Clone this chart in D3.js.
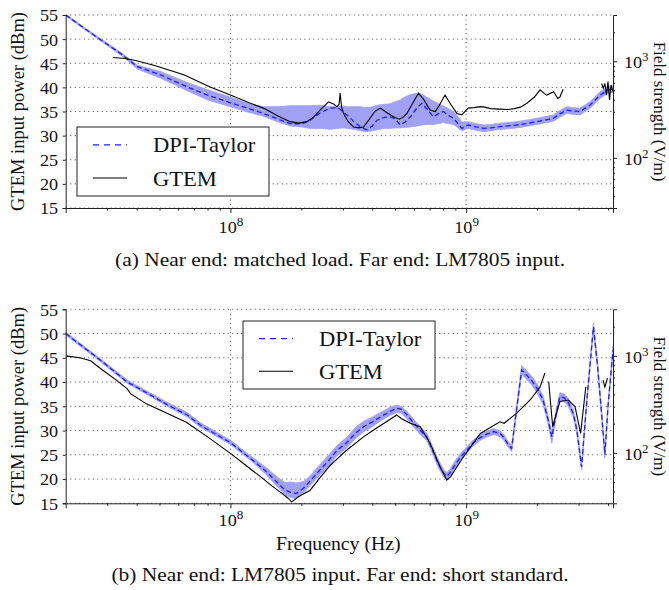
<!DOCTYPE html>
<html><head><meta charset="utf-8">
<script src="https://cdn.jsdelivr.net/npm/d3@7"></script>
<style>
body{margin:0;background:#fff}
text{font-family:"Liberation Serif","Times New Roman",serif;fill:#111}
</style>
</head><body>
<svg id="c" width="669" height="590"></svg>
<script>
// ---------------- DATA ----------------
// frequencies in MHz, power in dBm
const yTicks = [15,20,25,30,35,40,45,50,55];
const xDecades = [1e8, 1e9];
const xMinor = [3e7,4e7,5e7,6e7,7e7,8e7,9e7,2e8,3e8,4e8,5e8,6e8,7e8,8e8,9e8,2e9,3e9,4e9];
const eMajor = [100, 1000];
const eMinor = [40,50,60,70,80,90,200,300,400,500,600,700,800,900,2000];
const seriesNames = ["DPI-Taylor","GTEM"];
const captionA = "(a) Near end: matched load. Far end: LM7805 input.";
const captionB = "(b) Near end: LM7805 input. Far end: short standard.";
const xTitle = "Frequency (Hz)";
const yTitle = "GTEM input power (dBm)";
const y2Title = "Field strength (V/m)";

// Panel (a)
const freqA = [20,26.4,34.2,40.3,50.5,65.6,80,100,120,138,160,179,200,218,240,266,285,300,312,335,356,379,400,419,450,476,500,525,550,580,620,649,690,727,765,801,840,884,930,959,1020,1100,1190,1270,1350,1500,1640,1800,2000,2200,2350,2500,2670,2850,3040,3350,3700,4010,4200];
const dpiA = [55.0,50.8,47.0,44.3,42.6,40.1,38.4,36.8,35.6,34.6,33.4,32.5,32.4,33.2,34.7,35.7,35.8,35.0,34.3,32.8,31.8,31.2,32.0,33.2,33.8,33.9,33.5,32.2,32.8,33.9,35.8,36.7,35.2,33.9,34.6,35.0,34.2,33.6,32.3,31.5,32.2,31.8,31.5,31.6,31.8,32.0,32.2,32.5,32.9,33.3,33.6,34.5,35.3,35.1,35.0,36.3,38.4,39.5,39.6];
const dpiLoA = [54.8,50.6,46.7,43.8,41.9,39.3,37.4,36.0,34.8,34.0,32.8,32.0,31.8,31.5,31.5,31.3,31.5,31.6,31.5,31.3,31.0,30.8,31.0,31.2,31.5,31.5,31.6,31.6,31.7,31.8,32.0,32.2,32.3,32.3,32.5,32.7,32.5,32.3,31.5,31.0,31.5,31.1,30.8,31.0,31.2,31.4,31.6,31.9,32.3,32.7,33.0,33.8,34.6,34.4,34.3,35.6,37.7,38.8,38.9];
const dpiHiA = [55.2,51.0,47.3,44.6,43.3,41.0,39.5,38.0,36.6,36.0,36.0,36.2,36.2,36.2,36.3,36.0,36.0,36.1,36.0,36.0,36.0,35.8,36.0,36.3,36.5,36.6,37.0,37.4,38.0,38.5,38.8,38.6,37.8,37.2,36.6,36.2,35.6,35.0,33.8,32.8,32.9,32.5,32.2,32.3,32.5,32.7,32.9,33.2,33.6,34.0,34.3,35.2,36.0,35.8,35.7,37.0,39.1,40.2,40.3];
const gtemFreqA = [31.7,36,40,47.3,63.4,82,100,120,138,160,179,195,211,225,240,261,275,283,289,292,296,302,315,333,350,367,390,410,432,460,492,520,540,561,590,628,660,703,740,770,814,860,914,960,1020,1080,1150,1200,1270,1390,1500,1600,1700,1810,1950,2060,2150,2200,2350,2450,2500,2580,3000,3760,3820,3880,3940,4000,4060,4120,4200];
const gtemA = [46.2,46.0,45.5,44.6,42.6,40.1,38.4,36.8,35.7,34.0,32.9,32.6,32.9,33.8,35.3,37.0,36.5,36.0,36.5,38.8,36.0,34.6,33.0,31.8,31.6,31.8,33.5,35.0,35.7,34.8,33.9,33.4,33.8,34.6,36.5,38.8,37.5,35.3,35.0,36.3,38.4,36.5,34.6,34.3,35.7,35.8,36.0,35.9,35.6,35.5,35.4,35.6,35.9,36.7,38.0,39.5,38.7,38.4,39.1,37.7,38.0,39.6,null,40.8,39.8,40.8,38.4,41.2,37.4,40.5,39.1];

// Panel (b)
const freqB = [20,28.1,36.5,44.4,54,65.6,74.6,100,122,140,158,170,179,190,205,220,240,260,283,310,340,367,400,440,480,508,530,560,600,640,681,720,760,800,828,860,900,950,1010,1080,1160,1230,1310,1400,1450,1500,1560,1720,1800,1900,2000,2120,2220,2310,2400,2500,2600,2700,2850,2950,3090,3250,3470,3600,3750,3880,4000,4200];
const dpiB = [50.0,44.5,40.0,37.7,35.3,33.2,31.1,27.5,24.2,21.8,19.3,17.8,17.3,17.0,18.2,19.8,21.9,23.7,25.9,27.4,29.5,30.8,31.8,33.0,34.0,34.6,34.4,33.3,31.5,30.0,28.7,26.0,23.3,21.3,20.5,21.5,23.0,24.6,26.0,27.6,28.7,29.3,29.8,29.3,28.5,27.3,26.3,42.5,41.5,40.3,38.7,36.3,32.5,28.7,33.0,37.0,36.8,36.0,33.5,30.1,22.5,36.0,51.4,44.0,34.0,25.0,35.0,46.6];
const dpiLoB = [49.7,44.2,39.7,37.4,35.0,32.8,30.7,27.1,23.8,21.2,18.5,16.8,16.2,16.0,17.2,18.9,20.8,22.6,24.8,26.3,28.4,29.7,30.8,32.2,33.2,33.7,33.6,32.5,30.7,29.2,27.9,25.2,22.5,20.6,19.8,20.8,22.3,23.9,25.4,27.0,28.1,28.7,29.2,28.7,27.9,26.7,25.7,41.6,40.6,39.4,37.8,35.4,31.6,27.4,32.2,36.2,36.0,35.2,32.7,29.3,21.8,35.2,50.6,43.2,33.2,24.3,34.2,45.8];
const dpiHiB = [50.3,44.8,40.4,38.1,35.8,33.7,31.6,28.0,24.7,22.6,20.4,19.3,19.4,19.2,19.5,20.9,23.0,24.8,26.9,28.5,30.7,31.9,32.8,33.9,34.9,35.2,35.0,34.0,32.3,30.8,29.5,26.8,24.1,22.1,21.3,22.3,23.8,25.3,26.7,28.2,29.3,29.9,30.4,29.9,29.1,27.9,26.9,43.4,42.4,41.2,39.6,37.2,33.4,29.8,33.8,37.8,37.6,36.8,34.3,30.9,23.2,36.8,52.2,44.8,34.8,25.7,35.8,47.4];
const gtemFreqB = [20,23,25.5,28.1,33,36.5,37.7,44,50.5,65,80,100,115,134,150,165,175,182,195,218,240,266,312,367,405,508,530,580,638,703,776,828,860,975,1150,1390,1450,1640,1870,2060,2160,2200,2240,2330,2500,2720,2900,3060,3220,3500,3810,3880,3980];
const gtemB = [45.4,45.0,44.4,42.8,40.3,38.6,37.6,35.5,34.2,31.7,28.7,25.3,23.0,20.5,18.6,17.1,16.1,15.3,16.4,17.7,20.3,22.9,26.0,28.7,30.1,33.2,32.5,31.5,30.8,27.4,22.5,19.8,20.5,24.6,29.4,31.8,31.5,33.6,36.3,39.0,41.9,null,40.1,30.8,36.0,36.3,34.9,29.4,39.0,null,40.4,39.0,40.8];

// ---------------- DRAW ----------------
const SX = 1.1;           // horizontal stretch of glyphs
const svg = d3.select("#c");
const BLUE = "#1f1fff", BAND = "#a0a0f7", GRID = "#666";

function stext(parent, str, x, y, size, anchor, rot, sx){
  const k = sx == null ? SX : sx;
  return parent.append("text")
    .attr("transform", `translate(${x},${y}) scale(${k},1)` + (rot ? ` rotate(${rot})` : ""))
    .attr("text-anchor", anchor).style("font-size", size + "px").text(str);
}
function supLabel(sel, base, exp){
  sel.text(null);
  sel.append("tspan").text(base);
  sel.append("tspan").attr("dy", -7).style("font-size", "0.72em").text(exp);
}

function panel(cfg){
  const {id, top, bottom, left, right} = cfg;
  const x = d3.scaleLog().domain([20e6, 4.2e9]).range([left, right]);
  const y = d3.scaleLinear().domain([15, 55]).range([bottom, top]);
  const e = d3.scaleLog().domain([30.2, 3020]).range([bottom, top]);
  const g = svg.append("g");

  svg.append("clipPath").attr("id", "clip" + id).append("rect")
    .attr("x", left).attr("y", top).attr("width", right - left).attr("height", bottom - top);

  // grid
  g.append("g").selectAll("line").data(yTicks).join("line")
    .attr("x1", left).attr("x2", right).attr("y1", d => y(d)).attr("y2", d => y(d))
    .attr("stroke", GRID).attr("stroke-width", 1).attr("stroke-dasharray", "1.2,3.3");
  g.append("g").selectAll("line").data(xDecades).join("line")
    .attr("y1", top).attr("y2", bottom).attr("x1", d => x(d)).attr("x2", d => x(d))
    .attr("stroke", GRID).attr("stroke-width", 1).attr("stroke-dasharray", "1.2,3.3");

  const pts = cfg.f.map((f, i) => ({f: f * 1e6, p: cfg.p[i], lo: cfg.lo[i], hi: cfg.hi[i]}));
  const gp = cfg.gf.map((f, i) => ({f: f * 1e6, p: cfg.g[i]}));
  const plot = g.append("g").attr("clip-path", `url(#clip${id})`);

  plot.append("path").datum(pts)
    .attr("d", d3.area().x(d => x(d.f)).y0(d => y(d.lo)).y1(d => y(d.hi)))
    .attr("fill", BAND).attr("stroke", BAND).attr("stroke-width", 0.8);
  plot.append("path").datum(pts)
    .attr("d", d3.line().x(d => x(d.f)).y(d => y(d.p)))
    .attr("fill", "none").attr("stroke", BLUE).attr("stroke-width", 1.3).attr("stroke-dasharray", "5,3");
  plot.append("path").datum(gp)
    .attr("d", d3.line().defined(d => d.p != null).x(d => x(d.f)).y(d => y(d.p)))
    .attr("fill", "none").attr("stroke", "#000").attr("stroke-width", 1.1);

  // axes
  const axL = g.append("g").attr("transform", `translate(${left},0)`)
    .call(d3.axisLeft(y).tickValues(yTicks).tickSize(3).tickPadding(4));
  axL.selectAll("text").style("font-size", "16.5px").attr("transform", `scale(${SX},1)`)
    .attr("dy", "0.36em");

  const axB = g.append("g").attr("transform", `translate(0,${bottom})`)
    .call(d3.axisBottom(x).tickValues(xDecades).tickSize(5).tickFormat(""));
  axB.selectAll(".tick text").each(function(d){
      const s = d3.select(this);
      s.style("font-size", "16.5px").attr("transform", `scale(${SX},1)`)
        .attr("y", cfg.xLabBase).attr("dy", null);
      supLabel(s, "10", String(Math.round(Math.log10(d))));
    });
  g.append("g").attr("transform", `translate(0,${bottom})`)
    .call(d3.axisBottom(x).tickValues(xMinor).tickSize(2.5).tickFormat(""))
    .select(".domain").remove();

  const axR = g.append("g").attr("transform", `translate(${right},0)`)
    .call(d3.axisRight(e).tickValues(eMajor).tickSize(4).tickPadding(6).tickFormat(""));
  axR.selectAll(".tick text").each(function(d){
      const s = d3.select(this);
      s.style("font-size", "16.5px").attr("transform", `scale(${SX},1)`).attr("dy", "0.4em");
      supLabel(s, "10", String(Math.round(Math.log10(d))));
    });
  g.append("g").attr("transform", `translate(${right},0)`)
    .call(d3.axisRight(e).tickValues(eMinor).tickSize(2).tickFormat(""))
    .select(".domain").remove();

  g.selectAll(".domain").attr("stroke", "#222");
  g.selectAll(".tick line").attr("stroke", "#222");
  g.selectAll(".tick text").attr("fill", "#111").style("font-family", '"Liberation Serif",serif');

  // titles
  const mid = (top + bottom) / 2;
  stext(g, yTitle, 24, mid, 18.5, "middle", -90, 1);
  stext(g, y2Title, 653.5, mid, 17, "middle", 90, 1);

  // legend
  const L = cfg.legend;
  g.append("rect").attr("x", L.x).attr("y", L.y).attr("width", L.w).attr("height", L.h)
    .attr("fill", "#fff").attr("stroke", "#222").attr("stroke-width", 1);
  const ly = [L.y + L.h * 0.26, L.y + L.h * 0.74];
  g.append("line").attr("x1", L.x + 16).attr("x2", L.x + 50).attr("y1", ly[0]).attr("y2", ly[0])
    .attr("stroke", BLUE).attr("stroke-width", 1.3).attr("stroke-dasharray", "6,5");
  g.append("line").attr("x1", L.x + 16).attr("x2", L.x + 50).attr("y1", ly[1]).attr("y2", ly[1])
    .attr("stroke", "#000").attr("stroke-width", 1.1);
  seriesNames.forEach((n, i) => stext(g, n, L.x + 76, ly[i] + 7.5, 20.5, "start"));

  if (cfg.xlabel) stext(g, xTitle, (left + right) / 2 - 1, cfg.xlabelY, 18, "middle");
  stext(g, cfg.caption, 340, cfg.captionY, 19.5, "middle");
}

panel({id: "a", top: 15, bottom: 208, left: 65.7, right: 613,
  f: freqA, p: dpiA, lo: dpiLoA, hi: dpiHiA, gf: gtemFreqA, g: gtemA,
  legend: {x: 77, y: 127, w: 192, h: 69}, caption: captionA, captionY: 266, xLabBase: 25});
panel({id: "b", top: 309.3, bottom: 503.3, left: 65.7, right: 613,
  f: freqB, p: dpiB, lo: dpiLoB, hi: dpiHiB, gf: gtemFreqB, g: gtemB,
  legend: {x: 243, y: 321, w: 192, h: 68}, caption: captionB, captionY: 581, xLabBase: 23,
  xlabel: true, xlabelY: 550});
</script>
</body></html>
